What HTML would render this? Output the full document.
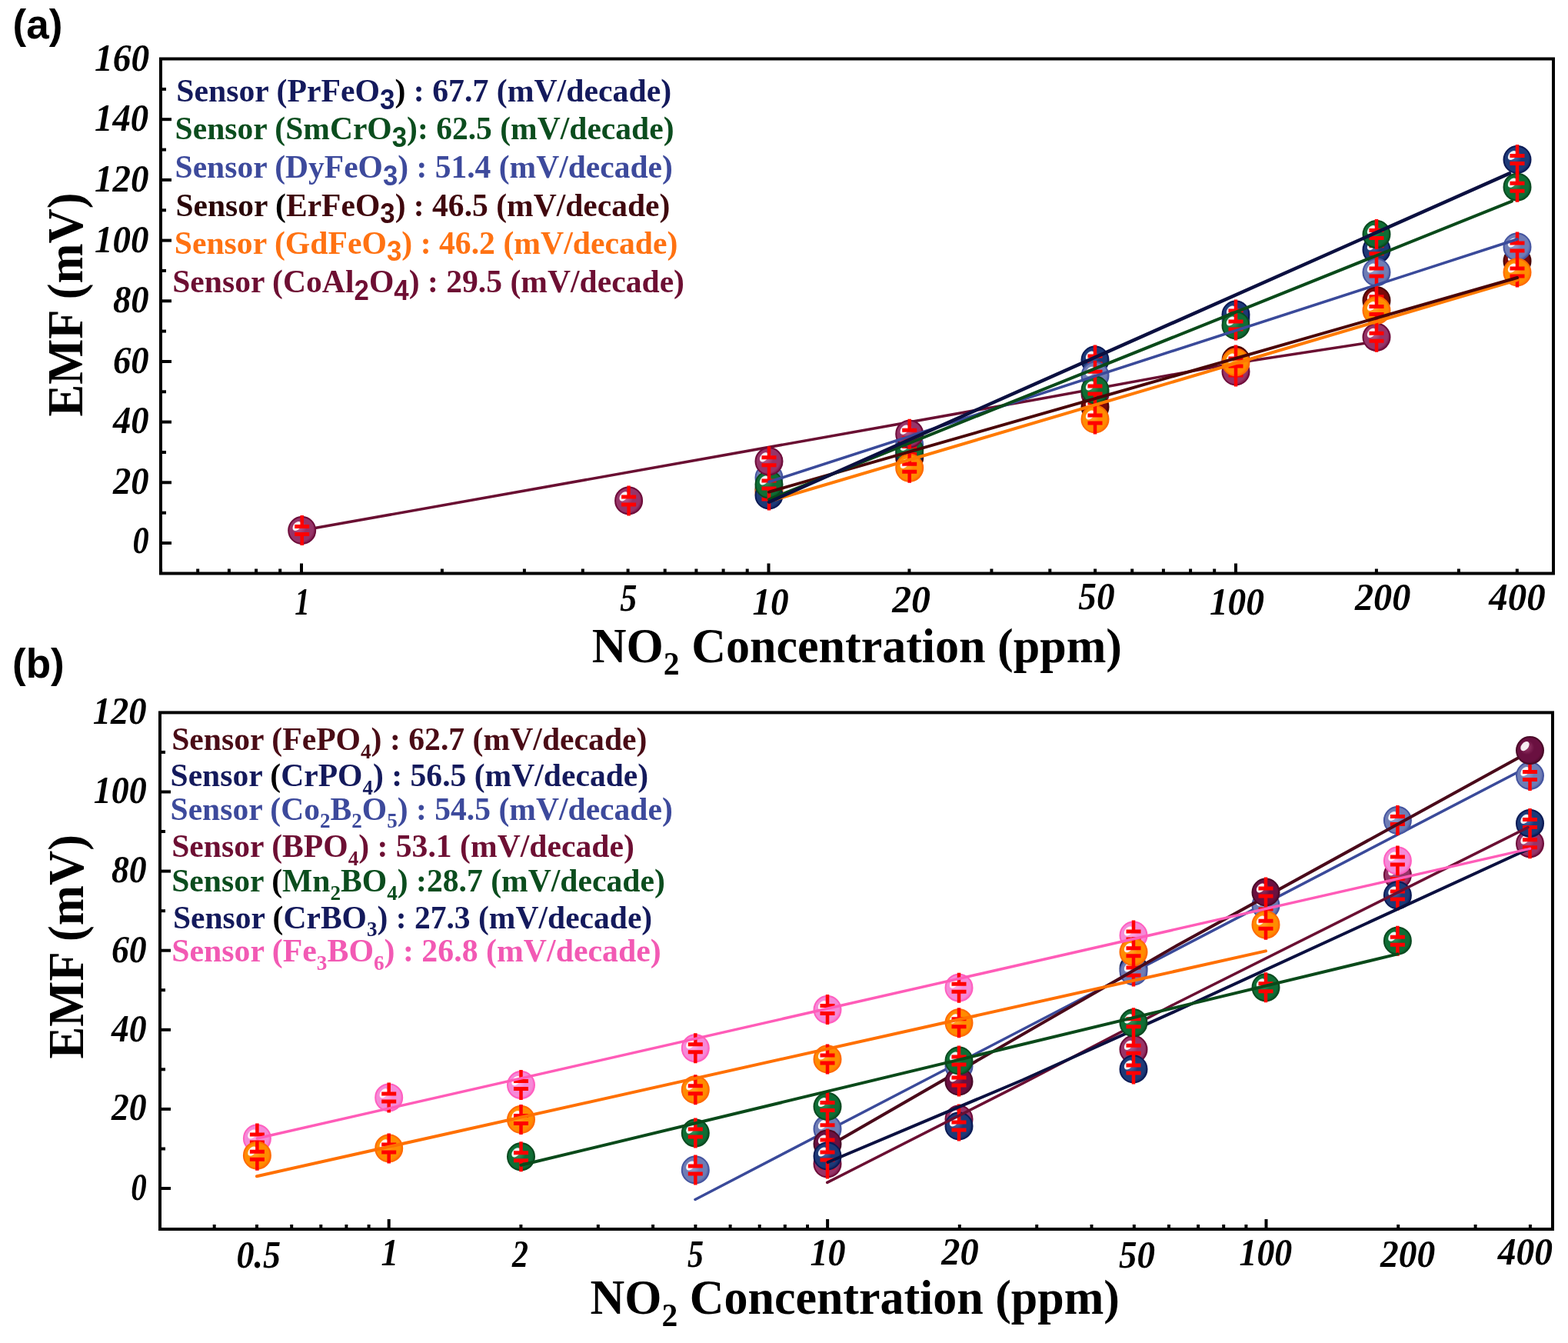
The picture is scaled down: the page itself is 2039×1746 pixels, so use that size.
<!DOCTYPE html><html><head><meta charset="utf-8"><style>html,body{margin:0;padding:0;background:#fff;}svg{display:block;}</style></head><body><svg width="2039" height="1746" viewBox="0 0 2039 1746">
<defs><radialGradient id="g_navy" cx="0.45" cy="0.45" r="0.6" fx="0.35" fy="0.35"><stop offset="0" stop-color="#5a78b8"/><stop offset="0.45" stop-color="#1d3a78"/><stop offset="0.8" stop-color="#1d3a78"/><stop offset="1" stop-color="#0b1a55"/></radialGradient><radialGradient id="g_green" cx="0.45" cy="0.45" r="0.6" fx="0.35" fy="0.35"><stop offset="0" stop-color="#4aa070"/><stop offset="0.45" stop-color="#0f6e35"/><stop offset="0.8" stop-color="#0f6e35"/><stop offset="1" stop-color="#0a4a20"/></radialGradient><radialGradient id="g_blue" cx="0.45" cy="0.45" r="0.6" fx="0.35" fy="0.35"><stop offset="0" stop-color="#a8b4dc"/><stop offset="0.45" stop-color="#6f7db5"/><stop offset="0.8" stop-color="#6f7db5"/><stop offset="1" stop-color="#4555a0"/></radialGradient><radialGradient id="g_dred" cx="0.45" cy="0.45" r="0.6" fx="0.35" fy="0.35"><stop offset="0" stop-color="#b04040"/><stop offset="0.45" stop-color="#7a0a0a"/><stop offset="0.8" stop-color="#7a0a0a"/><stop offset="1" stop-color="#4a0505"/></radialGradient><radialGradient id="g_orange" cx="0.45" cy="0.45" r="0.6" fx="0.35" fy="0.35"><stop offset="0" stop-color="#ffb040"/><stop offset="0.45" stop-color="#ff8c00"/><stop offset="0.8" stop-color="#ff8c00"/><stop offset="1" stop-color="#ff6a00"/></radialGradient><radialGradient id="g_maroon" cx="0.45" cy="0.45" r="0.6" fx="0.35" fy="0.35"><stop offset="0" stop-color="#c070a0"/><stop offset="0.45" stop-color="#963468"/><stop offset="0.8" stop-color="#963468"/><stop offset="1" stop-color="#6e0c3a"/></radialGradient><radialGradient id="g_pink" cx="0.45" cy="0.45" r="0.6" fx="0.35" fy="0.35"><stop offset="0" stop-color="#ffc0ec"/><stop offset="0.45" stop-color="#f58ad8"/><stop offset="0.8" stop-color="#f58ad8"/><stop offset="1" stop-color="#ff5fc0"/></radialGradient><radialGradient id="g_plum" cx="0.45" cy="0.45" r="0.6" fx="0.35" fy="0.35"><stop offset="0" stop-color="#a04070"/><stop offset="0.45" stop-color="#6a1040"/><stop offset="0.8" stop-color="#6a1040"/><stop offset="1" stop-color="#4a0a28"/></radialGradient></defs>
<rect width="2039" height="1746" fill="#fff"/>
<text x="16.5" y="50" font-family="Liberation Sans, sans-serif" font-weight="bold" font-size="53">(a)</text>
<text x="16" y="881" font-family="Liberation Sans, sans-serif" font-weight="bold" font-size="53">(b)</text>
<rect x="209" y="76.5" width="1811" height="669.0" fill="none" stroke="#000" stroke-width="4"/><line x1="209" y1="706.0" x2="223" y2="706.0" stroke="#000" stroke-width="4"/><line x1="209" y1="627.3" x2="223" y2="627.3" stroke="#000" stroke-width="4"/><line x1="209" y1="548.6" x2="223" y2="548.6" stroke="#000" stroke-width="4"/><line x1="209" y1="470.0" x2="223" y2="470.0" stroke="#000" stroke-width="4"/><line x1="209" y1="391.3" x2="223" y2="391.3" stroke="#000" stroke-width="4"/><line x1="209" y1="312.6" x2="223" y2="312.6" stroke="#000" stroke-width="4"/><line x1="209" y1="233.9" x2="223" y2="233.9" stroke="#000" stroke-width="4"/><line x1="209" y1="155.2" x2="223" y2="155.2" stroke="#000" stroke-width="4"/><line x1="209" y1="666.7" x2="216" y2="666.7" stroke="#000" stroke-width="4"/><line x1="209" y1="588.0" x2="216" y2="588.0" stroke="#000" stroke-width="4"/><line x1="209" y1="509.3" x2="216" y2="509.3" stroke="#000" stroke-width="4"/><line x1="209" y1="430.6" x2="216" y2="430.6" stroke="#000" stroke-width="4"/><line x1="209" y1="351.9" x2="216" y2="351.9" stroke="#000" stroke-width="4"/><line x1="209" y1="273.3" x2="216" y2="273.3" stroke="#000" stroke-width="4"/><line x1="209" y1="194.6" x2="216" y2="194.6" stroke="#000" stroke-width="4"/><line x1="209" y1="115.9" x2="216" y2="115.9" stroke="#000" stroke-width="4"/><line x1="392.0" y1="745.5" x2="392.0" y2="732.5" stroke="#000" stroke-width="4"/><line x1="999.5" y1="745.5" x2="999.5" y2="732.5" stroke="#000" stroke-width="4"/><line x1="1607.0" y1="745.5" x2="1607.0" y2="732.5" stroke="#000" stroke-width="4"/><line x1="209.1" y1="745.5" x2="209.1" y2="739.5" stroke="#000" stroke-width="4"/><line x1="257.2" y1="745.5" x2="257.2" y2="739.5" stroke="#000" stroke-width="4"/><line x1="297.9" y1="745.5" x2="297.9" y2="739.5" stroke="#000" stroke-width="4"/><line x1="333.1" y1="745.5" x2="333.1" y2="739.5" stroke="#000" stroke-width="4"/><line x1="364.2" y1="745.5" x2="364.2" y2="739.5" stroke="#000" stroke-width="4"/><line x1="574.9" y1="745.5" x2="574.9" y2="739.5" stroke="#000" stroke-width="4"/><line x1="681.9" y1="745.5" x2="681.9" y2="739.5" stroke="#000" stroke-width="4"/><line x1="757.8" y1="745.5" x2="757.8" y2="739.5" stroke="#000" stroke-width="4"/><line x1="816.6" y1="745.5" x2="816.6" y2="739.5" stroke="#000" stroke-width="4"/><line x1="864.7" y1="745.5" x2="864.7" y2="739.5" stroke="#000" stroke-width="4"/><line x1="905.4" y1="745.5" x2="905.4" y2="739.5" stroke="#000" stroke-width="4"/><line x1="940.6" y1="745.5" x2="940.6" y2="739.5" stroke="#000" stroke-width="4"/><line x1="971.7" y1="745.5" x2="971.7" y2="739.5" stroke="#000" stroke-width="4"/><line x1="1182.4" y1="745.5" x2="1182.4" y2="739.5" stroke="#000" stroke-width="4"/><line x1="1289.4" y1="745.5" x2="1289.4" y2="739.5" stroke="#000" stroke-width="4"/><line x1="1365.3" y1="745.5" x2="1365.3" y2="739.5" stroke="#000" stroke-width="4"/><line x1="1424.1" y1="745.5" x2="1424.1" y2="739.5" stroke="#000" stroke-width="4"/><line x1="1472.2" y1="745.5" x2="1472.2" y2="739.5" stroke="#000" stroke-width="4"/><line x1="1512.9" y1="745.5" x2="1512.9" y2="739.5" stroke="#000" stroke-width="4"/><line x1="1548.1" y1="745.5" x2="1548.1" y2="739.5" stroke="#000" stroke-width="4"/><line x1="1579.2" y1="745.5" x2="1579.2" y2="739.5" stroke="#000" stroke-width="4"/><line x1="1789.9" y1="745.5" x2="1789.9" y2="739.5" stroke="#000" stroke-width="4"/><line x1="1896.9" y1="745.5" x2="1896.9" y2="739.5" stroke="#000" stroke-width="4"/><line x1="1972.8" y1="745.5" x2="1972.8" y2="739.5" stroke="#000" stroke-width="4"/>
<rect x="208" y="926.4" width="1811" height="671.6" fill="none" stroke="#000" stroke-width="4"/><line x1="208" y1="1545.0" x2="222" y2="1545.0" stroke="#000" stroke-width="4"/><line x1="208" y1="1441.9" x2="222" y2="1441.9" stroke="#000" stroke-width="4"/><line x1="208" y1="1338.8" x2="222" y2="1338.8" stroke="#000" stroke-width="4"/><line x1="208" y1="1235.7" x2="222" y2="1235.7" stroke="#000" stroke-width="4"/><line x1="208" y1="1132.6" x2="222" y2="1132.6" stroke="#000" stroke-width="4"/><line x1="208" y1="1029.5" x2="222" y2="1029.5" stroke="#000" stroke-width="4"/><line x1="208" y1="1493.5" x2="215" y2="1493.5" stroke="#000" stroke-width="4"/><line x1="208" y1="1390.3" x2="215" y2="1390.3" stroke="#000" stroke-width="4"/><line x1="208" y1="1287.2" x2="215" y2="1287.2" stroke="#000" stroke-width="4"/><line x1="208" y1="1184.2" x2="215" y2="1184.2" stroke="#000" stroke-width="4"/><line x1="208" y1="1081.0" x2="215" y2="1081.0" stroke="#000" stroke-width="4"/><line x1="208" y1="977.9" x2="215" y2="977.9" stroke="#000" stroke-width="4"/><line x1="505.7" y1="1598" x2="505.7" y2="1585" stroke="#000" stroke-width="4"/><line x1="1076.1" y1="1598" x2="1076.1" y2="1585" stroke="#000" stroke-width="4"/><line x1="1646.5" y1="1598" x2="1646.5" y2="1585" stroke="#000" stroke-width="4"/><line x1="278.7" y1="1598" x2="278.7" y2="1592" stroke="#000" stroke-width="4"/><line x1="334.0" y1="1598" x2="334.0" y2="1592" stroke="#000" stroke-width="4"/><line x1="379.2" y1="1598" x2="379.2" y2="1592" stroke="#000" stroke-width="4"/><line x1="417.3" y1="1598" x2="417.3" y2="1592" stroke="#000" stroke-width="4"/><line x1="450.4" y1="1598" x2="450.4" y2="1592" stroke="#000" stroke-width="4"/><line x1="479.6" y1="1598" x2="479.6" y2="1592" stroke="#000" stroke-width="4"/><line x1="677.4" y1="1598" x2="677.4" y2="1592" stroke="#000" stroke-width="4"/><line x1="777.8" y1="1598" x2="777.8" y2="1592" stroke="#000" stroke-width="4"/><line x1="849.1" y1="1598" x2="849.1" y2="1592" stroke="#000" stroke-width="4"/><line x1="904.4" y1="1598" x2="904.4" y2="1592" stroke="#000" stroke-width="4"/><line x1="949.6" y1="1598" x2="949.6" y2="1592" stroke="#000" stroke-width="4"/><line x1="987.7" y1="1598" x2="987.7" y2="1592" stroke="#000" stroke-width="4"/><line x1="1020.8" y1="1598" x2="1020.8" y2="1592" stroke="#000" stroke-width="4"/><line x1="1050.0" y1="1598" x2="1050.0" y2="1592" stroke="#000" stroke-width="4"/><line x1="1247.8" y1="1598" x2="1247.8" y2="1592" stroke="#000" stroke-width="4"/><line x1="1348.2" y1="1598" x2="1348.2" y2="1592" stroke="#000" stroke-width="4"/><line x1="1419.5" y1="1598" x2="1419.5" y2="1592" stroke="#000" stroke-width="4"/><line x1="1474.8" y1="1598" x2="1474.8" y2="1592" stroke="#000" stroke-width="4"/><line x1="1520.0" y1="1598" x2="1520.0" y2="1592" stroke="#000" stroke-width="4"/><line x1="1558.1" y1="1598" x2="1558.1" y2="1592" stroke="#000" stroke-width="4"/><line x1="1591.2" y1="1598" x2="1591.2" y2="1592" stroke="#000" stroke-width="4"/><line x1="1620.4" y1="1598" x2="1620.4" y2="1592" stroke="#000" stroke-width="4"/><line x1="1818.2" y1="1598" x2="1818.2" y2="1592" stroke="#000" stroke-width="4"/><line x1="1918.6" y1="1598" x2="1918.6" y2="1592" stroke="#000" stroke-width="4"/><line x1="1989.9" y1="1598" x2="1989.9" y2="1592" stroke="#000" stroke-width="4"/>
<text x="123.0" y="92.1" font-size="51" font-family="Liberation Serif, serif" font-weight="bold" font-style="italic" fill="#000" textLength="71.2" lengthAdjust="spacingAndGlyphs" >160</text>
<text x="123.0" y="170.2" font-size="51" font-family="Liberation Serif, serif" font-weight="bold" font-style="italic" fill="#000" textLength="70.2" lengthAdjust="spacingAndGlyphs" >140</text>
<text x="123.0" y="249.4" font-size="51" font-family="Liberation Serif, serif" font-weight="bold" font-style="italic" fill="#000" textLength="70.5" lengthAdjust="spacingAndGlyphs" >120</text>
<text x="123.0" y="327.6" font-size="51" font-family="Liberation Serif, serif" font-weight="bold" font-style="italic" fill="#000" textLength="70.5" lengthAdjust="spacingAndGlyphs" >100</text>
<text x="147.0" y="405.6" font-size="51" font-family="Liberation Serif, serif" font-weight="bold" font-style="italic" fill="#000" textLength="46.7" lengthAdjust="spacingAndGlyphs" >80</text>
<text x="147.0" y="485.0" font-size="51" font-family="Liberation Serif, serif" font-weight="bold" font-style="italic" fill="#000" textLength="46.7" lengthAdjust="spacingAndGlyphs" >60</text>
<text x="147.0" y="563.4" font-size="51" font-family="Liberation Serif, serif" font-weight="bold" font-style="italic" fill="#000" textLength="46.7" lengthAdjust="spacingAndGlyphs" >40</text>
<text x="147.0" y="641.8" font-size="51" font-family="Liberation Serif, serif" font-weight="bold" font-style="italic" fill="#000" textLength="46.7" lengthAdjust="spacingAndGlyphs" >20</text>
<text x="172.5" y="719.2" font-size="51" font-family="Liberation Serif, serif" font-weight="bold" font-style="italic" fill="#000" textLength="21.2" lengthAdjust="spacingAndGlyphs" >0</text>
<text x="383.3" y="799.3" font-size="51" font-family="Liberation Serif, serif" font-weight="bold" font-style="italic" fill="#000" textLength="19.6" lengthAdjust="spacingAndGlyphs" >1</text>
<text x="806.3" y="794.4" font-size="51" font-family="Liberation Serif, serif" font-weight="bold" font-style="italic" fill="#000" textLength="22.1" lengthAdjust="spacingAndGlyphs" >5</text>
<text x="978.5" y="799.4" font-size="51" font-family="Liberation Serif, serif" font-weight="bold" font-style="italic" fill="#000" textLength="47.2" lengthAdjust="spacingAndGlyphs" >10</text>
<text x="1160.2" y="795.5" font-size="51" font-family="Liberation Serif, serif" font-weight="bold" font-style="italic" fill="#000" textLength="49.8" lengthAdjust="spacingAndGlyphs" >20</text>
<text x="1402.3" y="792.0" font-size="51" font-family="Liberation Serif, serif" font-weight="bold" font-style="italic" fill="#000" textLength="47.2" lengthAdjust="spacingAndGlyphs" >50</text>
<text x="1572.9" y="799.4" font-size="51" font-family="Liberation Serif, serif" font-weight="bold" font-style="italic" fill="#000" textLength="71.1" lengthAdjust="spacingAndGlyphs" >100</text>
<text x="1761.9" y="793.0" font-size="51" font-family="Liberation Serif, serif" font-weight="bold" font-style="italic" fill="#000" textLength="72.4" lengthAdjust="spacingAndGlyphs" >200</text>
<text x="1936.3" y="793.0" font-size="51" font-family="Liberation Serif, serif" font-weight="bold" font-style="italic" fill="#000" textLength="73.3" lengthAdjust="spacingAndGlyphs" >400</text>
<text x="120.7" y="940.8" font-size="51" font-family="Liberation Serif, serif" font-weight="bold" font-style="italic" fill="#000" textLength="70.0" lengthAdjust="spacingAndGlyphs" >120</text>
<text x="121.7" y="1044.0" font-size="51" font-family="Liberation Serif, serif" font-weight="bold" font-style="italic" fill="#000" textLength="69.0" lengthAdjust="spacingAndGlyphs" >100</text>
<text x="145.0" y="1147.0" font-size="51" font-family="Liberation Serif, serif" font-weight="bold" font-style="italic" fill="#000" textLength="45.7" lengthAdjust="spacingAndGlyphs" >80</text>
<text x="145.0" y="1250.7" font-size="51" font-family="Liberation Serif, serif" font-weight="bold" font-style="italic" fill="#000" textLength="45.7" lengthAdjust="spacingAndGlyphs" >60</text>
<text x="145.0" y="1354.3" font-size="51" font-family="Liberation Serif, serif" font-weight="bold" font-style="italic" fill="#000" textLength="45.7" lengthAdjust="spacingAndGlyphs" >40</text>
<text x="145.0" y="1456.0" font-size="51" font-family="Liberation Serif, serif" font-weight="bold" font-style="italic" fill="#000" textLength="45.7" lengthAdjust="spacingAndGlyphs" >20</text>
<text x="170.2" y="1559.6" font-size="51" font-family="Liberation Serif, serif" font-weight="bold" font-style="italic" fill="#000" textLength="20.5" lengthAdjust="spacingAndGlyphs" >0</text>
<text x="307.4" y="1648.2" font-size="51" font-family="Liberation Serif, serif" font-weight="bold" font-style="italic" fill="#000" textLength="57.5" lengthAdjust="spacingAndGlyphs" >0.5</text>
<text x="495.4" y="1644.7" font-size="51" font-family="Liberation Serif, serif" font-weight="bold" font-style="italic" fill="#000" textLength="22.6" lengthAdjust="spacingAndGlyphs" >1</text>
<text x="666.0" y="1646.5" font-size="51" font-family="Liberation Serif, serif" font-weight="bold" font-style="italic" fill="#000" textLength="21.0" lengthAdjust="spacingAndGlyphs" >2</text>
<text x="894.0" y="1646.5" font-size="51" font-family="Liberation Serif, serif" font-weight="bold" font-style="italic" fill="#000" textLength="21.0" lengthAdjust="spacingAndGlyphs" >5</text>
<text x="1053.5" y="1645.0" font-size="51" font-family="Liberation Serif, serif" font-weight="bold" font-style="italic" fill="#000" textLength="45.9" lengthAdjust="spacingAndGlyphs" >10</text>
<text x="1224.2" y="1644.0" font-size="51" font-family="Liberation Serif, serif" font-weight="bold" font-style="italic" fill="#000" textLength="48.4" lengthAdjust="spacingAndGlyphs" >20</text>
<text x="1455.0" y="1647.5" font-size="51" font-family="Liberation Serif, serif" font-weight="bold" font-style="italic" fill="#000" textLength="46.9" lengthAdjust="spacingAndGlyphs" >50</text>
<text x="1611.5" y="1645.0" font-size="51" font-family="Liberation Serif, serif" font-weight="bold" font-style="italic" fill="#000" textLength="68.8" lengthAdjust="spacingAndGlyphs" >100</text>
<text x="1794.9" y="1646.5" font-size="51" font-family="Liberation Serif, serif" font-weight="bold" font-style="italic" fill="#000" textLength="71.3" lengthAdjust="spacingAndGlyphs" >200</text>
<text x="1947.8" y="1644.0" font-size="51" font-family="Liberation Serif, serif" font-weight="bold" font-style="italic" fill="#000" textLength="71.3" lengthAdjust="spacingAndGlyphs" >400</text>
<text x="769.8" y="860.8" font-family="Liberation Serif, serif" font-weight="bold" font-size="64" textLength="689.2" lengthAdjust="spacingAndGlyphs">NO<tspan font-size="43" y="876.8">2</tspan><tspan y="860.8"> Concentration (ppm)</tspan></text>
<text x="767.5" y="1708" font-family="Liberation Serif, serif" font-weight="bold" font-size="64" textLength="688.5" lengthAdjust="spacingAndGlyphs">NO<tspan font-size="43" y="1724">2</tspan><tspan y="1708"> Concentration (ppm)</tspan></text>
<text transform="translate(107.4,541.4) rotate(-90)" x="0" y="0" font-family="Liberation Serif, serif" font-weight="bold" font-size="65" textLength="290.9" lengthAdjust="spacingAndGlyphs">EMF (mV)</text>
<text transform="translate(108.4,1376.4) rotate(-90)" x="0" y="0" font-family="Liberation Serif, serif" font-weight="bold" font-size="65" textLength="291.4000000000001" lengthAdjust="spacingAndGlyphs">EMF (mV)</text>
<text x="229.2" y="132.3" font-family="Liberation Serif, serif" font-weight="bold" font-size="43" textLength="643.9000000000001" lengthAdjust="spacingAndGlyphs"><tspan y="132.3" fill="#141a5c">Sensor (PrFeO</tspan><tspan y="141.8" fill="#141a5c" font-family="Liberation Sans, sans-serif" font-weight="bold" font-size="36">3</tspan><tspan y="132.3" fill="#000">)</tspan><tspan y="132.3" fill="#141a5c"> : 67.7 (mV/decade)</tspan></text>
<text x="227.6" y="181.4" font-family="Liberation Serif, serif" font-weight="bold" font-size="43" textLength="648.9" lengthAdjust="spacingAndGlyphs"><tspan y="181.4" fill="#0b4d1e">Sensor (SmCrO</tspan><tspan y="190.9" fill="#0b4d1e" font-family="Liberation Sans, sans-serif" font-weight="bold" font-size="36">3</tspan><tspan y="181.4" fill="#0b4d1e">): 62.5 (mV/decade)</tspan></text>
<text x="227.6" y="231.3" font-family="Liberation Serif, serif" font-weight="bold" font-size="43" textLength="647.1999999999999" lengthAdjust="spacingAndGlyphs"><tspan y="231.3" fill="#3d4a9c">Sensor (DyFeO</tspan><tspan y="240.8" fill="#3d4a9c" font-family="Liberation Sans, sans-serif" font-weight="bold" font-size="36">3</tspan><tspan y="231.3" fill="#3d4a9c">) : 51.4 (mV/decade)</tspan></text>
<text x="228.4" y="280.6" font-family="Liberation Serif, serif" font-weight="bold" font-size="43" textLength="643.0" lengthAdjust="spacingAndGlyphs"><tspan y="280.6" fill="#2a0608">Sensor </tspan><tspan y="280.6" fill="#000">(</tspan><tspan y="280.6" fill="#40080e">ErFeO</tspan><tspan y="290.1" fill="#40080e" font-family="Liberation Sans, sans-serif" font-weight="bold" font-size="36">3</tspan><tspan y="280.6" fill="#40080e">) : 46.5 (mV/decade)</tspan></text>
<text x="226.7" y="329.7" font-family="Liberation Serif, serif" font-weight="bold" font-size="43" textLength="654.8" lengthAdjust="spacingAndGlyphs"><tspan y="329.7" fill="#ff7212">Sensor (GdFeO</tspan><tspan y="339.2" fill="#ff7212" font-family="Liberation Sans, sans-serif" font-weight="bold" font-size="36">3</tspan><tspan y="329.7" fill="#ff7212">) : 46.2 (mV/decade)</tspan></text>
<text x="224.2" y="380.4" font-family="Liberation Serif, serif" font-weight="bold" font-size="43" textLength="665.8" lengthAdjust="spacingAndGlyphs"><tspan y="380.4" fill="#6d0f33">Sensor (CoAl</tspan><tspan y="389.9" fill="#6d0f33" font-family="Liberation Sans, sans-serif" font-weight="bold" font-size="36">2</tspan><tspan y="380.4" fill="#6d0f33">O</tspan><tspan y="389.9" fill="#6d0f33" font-family="Liberation Sans, sans-serif" font-weight="bold" font-size="36">4</tspan><tspan y="380.4" fill="#6d0f33">) : 29.5 (mV/decade)</tspan></text>
<text x="223.2" y="975" font-family="Liberation Serif, serif" font-weight="bold" font-size="43" textLength="618.3" lengthAdjust="spacingAndGlyphs"><tspan y="975" fill="#4a0c16">Sensor (FePO</tspan><tspan y="985.5" fill="#4a0c16" font-size="28">4</tspan><tspan y="975" fill="#4a0c16">) : 62.7 (mV/decade)</tspan></text>
<text x="221.5" y="1022.3" font-family="Liberation Serif, serif" font-weight="bold" font-size="43" textLength="621.7" lengthAdjust="spacingAndGlyphs"><tspan y="1022.3" fill="#141a5c">Sensor </tspan><tspan y="1022.3" fill="#000">(</tspan><tspan y="1022.3" fill="#141a5c">CrPO</tspan><tspan y="1032.8" fill="#141a5c" font-size="28">4</tspan><tspan y="1022.3" fill="#141a5c">) : 56.5 (mV/decade)</tspan></text>
<text x="221.5" y="1065.7" font-family="Liberation Serif, serif" font-weight="bold" font-size="43" textLength="653.3" lengthAdjust="spacingAndGlyphs"><tspan y="1065.7" fill="#3d4a9c">Sensor (Co</tspan><tspan y="1076.2" fill="#3d4a9c" font-size="28">2</tspan><tspan y="1065.7" fill="#3d4a9c">B</tspan><tspan y="1076.2" fill="#3d4a9c" font-size="28">2</tspan><tspan y="1065.7" fill="#3d4a9c">O</tspan><tspan y="1076.2" fill="#3d4a9c" font-size="28">5</tspan><tspan y="1065.7" fill="#3d4a9c">) : 54.5 (mV/decade)</tspan></text>
<text x="223.2" y="1114.3" font-family="Liberation Serif, serif" font-weight="bold" font-size="43" textLength="601.5999999999999" lengthAdjust="spacingAndGlyphs"><tspan y="1114.3" fill="#6d0f33">Sensor (BPO</tspan><tspan y="1124.8" fill="#6d0f33" font-size="28">4</tspan><tspan y="1114.3" fill="#6d0f33">) : 53.1 (mV/decade)</tspan></text>
<text x="223.2" y="1159" font-family="Liberation Serif, serif" font-weight="bold" font-size="43" textLength="641.5999999999999" lengthAdjust="spacingAndGlyphs"><tspan y="1159" fill="#0b4d1e">Sensor </tspan><tspan y="1159" fill="#000">(</tspan><tspan y="1159" fill="#0b4d1e">Mn</tspan><tspan y="1169.5" fill="#0b4d1e" font-size="28">2</tspan><tspan y="1159" fill="#0b4d1e">BO</tspan><tspan y="1169.5" fill="#0b4d1e" font-size="28">4</tspan><tspan y="1159" fill="#0b4d1e">) :28.7 (mV/decade)</tspan></text>
<text x="224.9" y="1206.7" font-family="Liberation Serif, serif" font-weight="bold" font-size="43" textLength="623.3000000000001" lengthAdjust="spacingAndGlyphs"><tspan y="1206.7" fill="#141a5c">Sensor </tspan><tspan y="1206.7" fill="#000">(</tspan><tspan y="1206.7" fill="#141a5c">CrBO</tspan><tspan y="1217.2" fill="#141a5c" font-size="28">3</tspan><tspan y="1206.7" fill="#141a5c">) : 27.3 (mV/decade)</tspan></text>
<text x="223.2" y="1250" font-family="Liberation Serif, serif" font-weight="bold" font-size="43" textLength="636.5999999999999" lengthAdjust="spacingAndGlyphs"><tspan y="1250" fill="#f25ab4">Sensor (Fe</tspan><tspan y="1260.5" fill="#f25ab4" font-size="28">3</tspan><tspan y="1250" fill="#f25ab4">BO</tspan><tspan y="1260.5" fill="#f25ab4" font-size="28">6</tspan><tspan y="1250" fill="#f25ab4">) : 26.8 (mV/decade)</tspan></text>
<polyline points="392.7,689.5 1350.0,519.0 1607.0,472.0 1790.0,444.0" fill="none" stroke="#6a0f32" stroke-width="3.5" stroke-linejoin="round" stroke-linecap="round"/>
<circle cx="1000.0" cy="636.0" r="17.5" fill="url(#g_dred)" stroke="#4a0505" stroke-width="2"/><ellipse cx="993.5" cy="630.5" rx="4.5" ry="7" transform="rotate(40 993.5 630.5)" fill="#fff" opacity="0.92"/><path d="M1000.0,616.5V631.0M1000.0,641.0V655.5" stroke="#f00" stroke-width="4.5" fill="none"/><path d="M990.5,631.0H1009.5M990.5,641.0H1009.5" stroke="#f00" stroke-width="5" fill="none"/>
<circle cx="1607.0" cy="415.0" r="17.5" fill="url(#g_blue)" stroke="#4555a0" stroke-width="2"/><ellipse cx="1600.5" cy="409.5" rx="4.5" ry="7" transform="rotate(40 1600.5 409.5)" fill="#fff" opacity="0.92"/><path d="M1607.0,395.5V410.0M1607.0,420.0V434.5" stroke="#f00" stroke-width="4.5" fill="none"/><path d="M1597.5,410.0H1616.5M1597.5,420.0H1616.5" stroke="#f00" stroke-width="5" fill="none"/>
<circle cx="1000.0" cy="640.0" r="17.5" fill="url(#g_orange)" stroke="#ff6a00" stroke-width="2"/><ellipse cx="993.5" cy="634.5" rx="4.5" ry="7" transform="rotate(40 993.5 634.5)" fill="#fff" opacity="0.92"/><path d="M1000.0,620.5V635.0M1000.0,645.0V659.5" stroke="#f00" stroke-width="4.5" fill="none"/><path d="M990.5,635.0H1009.5M990.5,645.0H1009.5" stroke="#f00" stroke-width="5" fill="none"/>
<circle cx="392.7" cy="689.5" r="17.5" fill="url(#g_maroon)" stroke="#6e0c3a" stroke-width="2"/><ellipse cx="386.2" cy="684.0" rx="4.5" ry="7" transform="rotate(40 386.2 684.0)" fill="#fff" opacity="0.92"/><path d="M392.7,670.0V684.5M392.7,694.5V709.0" stroke="#f00" stroke-width="4.5" fill="none"/><path d="M383.2,684.5H402.2M383.2,694.5H402.2" stroke="#f00" stroke-width="5" fill="none"/>
<circle cx="817.6" cy="650.9" r="17.5" fill="url(#g_maroon)" stroke="#6e0c3a" stroke-width="2"/><ellipse cx="811.1" cy="645.4" rx="4.5" ry="7" transform="rotate(40 811.1 645.4)" fill="#fff" opacity="0.92"/><path d="M817.6,631.4V645.9M817.6,655.9V670.4" stroke="#f00" stroke-width="4.5" fill="none"/><path d="M808.1,645.9H827.1M808.1,655.9H827.1" stroke="#f00" stroke-width="5" fill="none"/>
<circle cx="1424.0" cy="512.0" r="17.5" fill="url(#g_maroon)" stroke="#6e0c3a" stroke-width="2"/><ellipse cx="1417.5" cy="506.5" rx="4.5" ry="7" transform="rotate(40 1417.5 506.5)" fill="#fff" opacity="0.92"/><path d="M1424.0,492.5V507.0M1424.0,517.0V531.5" stroke="#f00" stroke-width="4.5" fill="none"/><path d="M1414.5,507.0H1433.5M1414.5,517.0H1433.5" stroke="#f00" stroke-width="5" fill="none"/>
<circle cx="1607.0" cy="483.0" r="17.5" fill="url(#g_maroon)" stroke="#6e0c3a" stroke-width="2"/><ellipse cx="1600.5" cy="477.5" rx="4.5" ry="7" transform="rotate(40 1600.5 477.5)" fill="#fff" opacity="0.92"/><path d="M1607.0,463.5V478.0M1607.0,488.0V502.5" stroke="#f00" stroke-width="4.5" fill="none"/><path d="M1597.5,478.0H1616.5M1597.5,488.0H1616.5" stroke="#f00" stroke-width="5" fill="none"/>
<circle cx="1790.0" cy="438.3" r="17.5" fill="url(#g_maroon)" stroke="#6e0c3a" stroke-width="2"/><ellipse cx="1783.5" cy="432.8" rx="4.5" ry="7" transform="rotate(40 1783.5 432.8)" fill="#fff" opacity="0.92"/><path d="M1790.0,418.8V433.3M1790.0,443.3V457.8" stroke="#f00" stroke-width="4.5" fill="none"/><path d="M1780.5,433.3H1799.5M1780.5,443.3H1799.5" stroke="#f00" stroke-width="5" fill="none"/>
<circle cx="1182.7" cy="595.0" r="17.5" fill="url(#g_dred)" stroke="#4a0505" stroke-width="2"/><ellipse cx="1176.2" cy="589.5" rx="4.5" ry="7" transform="rotate(40 1176.2 589.5)" fill="#fff" opacity="0.92"/><path d="M1182.7,575.5V590.0M1182.7,600.0V614.5" stroke="#f00" stroke-width="4.5" fill="none"/><path d="M1173.2,590.0H1192.2M1173.2,600.0H1192.2" stroke="#f00" stroke-width="5" fill="none"/>
<circle cx="1424.0" cy="528.9" r="17.5" fill="url(#g_dred)" stroke="#4a0505" stroke-width="2"/><ellipse cx="1417.5" cy="523.4" rx="4.5" ry="7" transform="rotate(40 1417.5 523.4)" fill="#fff" opacity="0.92"/><path d="M1424.0,509.4V523.9M1424.0,533.9V548.4" stroke="#f00" stroke-width="4.5" fill="none"/><path d="M1414.5,523.9H1433.5M1414.5,533.9H1433.5" stroke="#f00" stroke-width="5" fill="none"/>
<circle cx="1607.0" cy="468.0" r="17.5" fill="url(#g_dred)" stroke="#4a0505" stroke-width="2"/><ellipse cx="1600.5" cy="462.5" rx="4.5" ry="7" transform="rotate(40 1600.5 462.5)" fill="#fff" opacity="0.92"/><path d="M1607.0,448.5V463.0M1607.0,473.0V487.5" stroke="#f00" stroke-width="4.5" fill="none"/><path d="M1597.5,463.0H1616.5M1597.5,473.0H1616.5" stroke="#f00" stroke-width="5" fill="none"/>
<circle cx="1790.0" cy="390.7" r="17.5" fill="url(#g_dred)" stroke="#4a0505" stroke-width="2"/><ellipse cx="1783.5" cy="385.2" rx="4.5" ry="7" transform="rotate(40 1783.5 385.2)" fill="#fff" opacity="0.92"/><path d="M1790.0,371.2V385.7M1790.0,395.7V410.2" stroke="#f00" stroke-width="4.5" fill="none"/><path d="M1780.5,385.7H1799.5M1780.5,395.7H1799.5" stroke="#f00" stroke-width="5" fill="none"/>
<circle cx="1973.0" cy="339.4" r="17.5" fill="url(#g_dred)" stroke="#4a0505" stroke-width="2"/><ellipse cx="1966.5" cy="333.9" rx="4.5" ry="7" transform="rotate(40 1966.5 333.9)" fill="#fff" opacity="0.92"/><path d="M1973.0,319.9V334.4M1973.0,344.4V358.9" stroke="#f00" stroke-width="4.5" fill="none"/><path d="M1963.5,334.4H1982.5M1963.5,344.4H1982.5" stroke="#f00" stroke-width="5" fill="none"/>
<circle cx="1000.0" cy="644.0" r="17.5" fill="url(#g_navy)" stroke="#0b1a55" stroke-width="2"/><ellipse cx="993.5" cy="638.5" rx="4.5" ry="7" transform="rotate(40 993.5 638.5)" fill="#fff" opacity="0.92"/><path d="M1000.0,624.5V639.0M1000.0,649.0V663.5" stroke="#f00" stroke-width="4.5" fill="none"/><path d="M990.5,639.0H1009.5M990.5,649.0H1009.5" stroke="#f00" stroke-width="5" fill="none"/>
<circle cx="1182.7" cy="590.0" r="17.5" fill="url(#g_navy)" stroke="#0b1a55" stroke-width="2"/><ellipse cx="1176.2" cy="584.5" rx="4.5" ry="7" transform="rotate(40 1176.2 584.5)" fill="#fff" opacity="0.92"/><path d="M1182.7,570.5V585.0M1182.7,595.0V609.5" stroke="#f00" stroke-width="4.5" fill="none"/><path d="M1173.2,585.0H1192.2M1173.2,595.0H1192.2" stroke="#f00" stroke-width="5" fill="none"/>
<circle cx="1424.0" cy="468.0" r="17.5" fill="url(#g_navy)" stroke="#0b1a55" stroke-width="2"/><ellipse cx="1417.5" cy="462.5" rx="4.5" ry="7" transform="rotate(40 1417.5 462.5)" fill="#fff" opacity="0.92"/><path d="M1424.0,448.5V463.0M1424.0,473.0V487.5" stroke="#f00" stroke-width="4.5" fill="none"/><path d="M1414.5,463.0H1433.5M1414.5,473.0H1433.5" stroke="#f00" stroke-width="5" fill="none"/>
<circle cx="1607.0" cy="409.0" r="17.5" fill="url(#g_navy)" stroke="#0b1a55" stroke-width="2"/><ellipse cx="1600.5" cy="403.5" rx="4.5" ry="7" transform="rotate(40 1600.5 403.5)" fill="#fff" opacity="0.92"/><path d="M1607.0,389.5V404.0M1607.0,414.0V428.5" stroke="#f00" stroke-width="4.5" fill="none"/><path d="M1597.5,404.0H1616.5M1597.5,414.0H1616.5" stroke="#f00" stroke-width="5" fill="none"/>
<circle cx="1790.0" cy="324.7" r="17.5" fill="url(#g_navy)" stroke="#0b1a55" stroke-width="2"/><ellipse cx="1783.5" cy="319.2" rx="4.5" ry="7" transform="rotate(40 1783.5 319.2)" fill="#fff" opacity="0.92"/><path d="M1790.0,305.2V319.7M1790.0,329.7V344.2" stroke="#f00" stroke-width="4.5" fill="none"/><path d="M1780.5,319.7H1799.5M1780.5,329.7H1799.5" stroke="#f00" stroke-width="5" fill="none"/>
<circle cx="1973.0" cy="207.5" r="17.5" fill="url(#g_navy)" stroke="#0b1a55" stroke-width="2"/><ellipse cx="1966.5" cy="202.0" rx="4.5" ry="7" transform="rotate(40 1966.5 202.0)" fill="#fff" opacity="0.92"/><path d="M1973.0,188.0V202.5M1973.0,212.5V227.0" stroke="#f00" stroke-width="4.5" fill="none"/><path d="M1963.5,202.5H1982.5M1963.5,212.5H1982.5" stroke="#f00" stroke-width="5" fill="none"/>
<circle cx="1000.0" cy="621.0" r="17.5" fill="url(#g_blue)" stroke="#4555a0" stroke-width="2"/><ellipse cx="993.5" cy="615.5" rx="4.5" ry="7" transform="rotate(40 993.5 615.5)" fill="#fff" opacity="0.92"/><path d="M1000.0,601.5V616.0M1000.0,626.0V640.5" stroke="#f00" stroke-width="4.5" fill="none"/><path d="M990.5,616.0H1009.5M990.5,626.0H1009.5" stroke="#f00" stroke-width="5" fill="none"/>
<circle cx="1182.7" cy="578.0" r="17.5" fill="url(#g_blue)" stroke="#4555a0" stroke-width="2"/><ellipse cx="1176.2" cy="572.5" rx="4.5" ry="7" transform="rotate(40 1176.2 572.5)" fill="#fff" opacity="0.92"/><path d="M1182.7,558.5V573.0M1182.7,583.0V597.5" stroke="#f00" stroke-width="4.5" fill="none"/><path d="M1173.2,573.0H1192.2M1173.2,583.0H1192.2" stroke="#f00" stroke-width="5" fill="none"/>
<circle cx="1424.0" cy="488.3" r="17.5" fill="url(#g_blue)" stroke="#4555a0" stroke-width="2"/><ellipse cx="1417.5" cy="482.8" rx="4.5" ry="7" transform="rotate(40 1417.5 482.8)" fill="#fff" opacity="0.92"/><path d="M1424.0,468.8V483.3M1424.0,493.3V507.8" stroke="#f00" stroke-width="4.5" fill="none"/><path d="M1414.5,483.3H1433.5M1414.5,493.3H1433.5" stroke="#f00" stroke-width="5" fill="none"/>
<circle cx="1790.0" cy="354.0" r="17.5" fill="url(#g_blue)" stroke="#4555a0" stroke-width="2"/><ellipse cx="1783.5" cy="348.5" rx="4.5" ry="7" transform="rotate(40 1783.5 348.5)" fill="#fff" opacity="0.92"/><path d="M1790.0,334.5V349.0M1790.0,359.0V373.5" stroke="#f00" stroke-width="4.5" fill="none"/><path d="M1780.5,349.0H1799.5M1780.5,359.0H1799.5" stroke="#f00" stroke-width="5" fill="none"/>
<circle cx="1973.0" cy="321.0" r="17.5" fill="url(#g_blue)" stroke="#4555a0" stroke-width="2"/><ellipse cx="1966.5" cy="315.5" rx="4.5" ry="7" transform="rotate(40 1966.5 315.5)" fill="#fff" opacity="0.92"/><path d="M1973.0,301.5V316.0M1973.0,326.0V340.5" stroke="#f00" stroke-width="4.5" fill="none"/><path d="M1963.5,316.0H1982.5M1963.5,326.0H1982.5" stroke="#f00" stroke-width="5" fill="none"/>
<circle cx="1000.0" cy="630.0" r="17.5" fill="url(#g_green)" stroke="#0a4a20" stroke-width="2"/><ellipse cx="993.5" cy="624.5" rx="4.5" ry="7" transform="rotate(40 993.5 624.5)" fill="#fff" opacity="0.92"/><path d="M1000.0,610.5V625.0M1000.0,635.0V649.5" stroke="#f00" stroke-width="4.5" fill="none"/><path d="M990.5,625.0H1009.5M990.5,635.0H1009.5" stroke="#f00" stroke-width="5" fill="none"/>
<circle cx="1182.7" cy="585.4" r="17.5" fill="url(#g_green)" stroke="#0a4a20" stroke-width="2"/><ellipse cx="1176.2" cy="579.9" rx="4.5" ry="7" transform="rotate(40 1176.2 579.9)" fill="#fff" opacity="0.92"/><path d="M1182.7,565.9V580.4M1182.7,590.4V604.9" stroke="#f00" stroke-width="4.5" fill="none"/><path d="M1173.2,580.4H1192.2M1173.2,590.4H1192.2" stroke="#f00" stroke-width="5" fill="none"/>
<circle cx="1424.0" cy="507.0" r="17.5" fill="url(#g_green)" stroke="#0a4a20" stroke-width="2"/><ellipse cx="1417.5" cy="501.5" rx="4.5" ry="7" transform="rotate(40 1417.5 501.5)" fill="#fff" opacity="0.92"/><path d="M1424.0,487.5V502.0M1424.0,512.0V526.5" stroke="#f00" stroke-width="4.5" fill="none"/><path d="M1414.5,502.0H1433.5M1414.5,512.0H1433.5" stroke="#f00" stroke-width="5" fill="none"/>
<circle cx="1607.0" cy="423.0" r="17.5" fill="url(#g_green)" stroke="#0a4a20" stroke-width="2"/><ellipse cx="1600.5" cy="417.5" rx="4.5" ry="7" transform="rotate(40 1600.5 417.5)" fill="#fff" opacity="0.92"/><path d="M1607.0,403.5V418.0M1607.0,428.0V442.5" stroke="#f00" stroke-width="4.5" fill="none"/><path d="M1597.5,418.0H1616.5M1597.5,428.0H1616.5" stroke="#f00" stroke-width="5" fill="none"/>
<circle cx="1790.0" cy="304.6" r="17.5" fill="url(#g_green)" stroke="#0a4a20" stroke-width="2"/><ellipse cx="1783.5" cy="299.1" rx="4.5" ry="7" transform="rotate(40 1783.5 299.1)" fill="#fff" opacity="0.92"/><path d="M1790.0,285.1V299.6M1790.0,309.6V324.1" stroke="#f00" stroke-width="4.5" fill="none"/><path d="M1780.5,299.6H1799.5M1780.5,309.6H1799.5" stroke="#f00" stroke-width="5" fill="none"/>
<circle cx="1973.0" cy="243.2" r="17.5" fill="url(#g_green)" stroke="#0a4a20" stroke-width="2"/><ellipse cx="1966.5" cy="237.7" rx="4.5" ry="7" transform="rotate(40 1966.5 237.7)" fill="#fff" opacity="0.92"/><path d="M1973.0,223.7V238.2M1973.0,248.2V262.7" stroke="#f00" stroke-width="4.5" fill="none"/><path d="M1963.5,238.2H1982.5M1963.5,248.2H1982.5" stroke="#f00" stroke-width="5" fill="none"/>
<circle cx="1182.7" cy="608.3" r="17.5" fill="url(#g_orange)" stroke="#ff6a00" stroke-width="2"/><ellipse cx="1176.2" cy="602.8" rx="4.5" ry="7" transform="rotate(40 1176.2 602.8)" fill="#fff" opacity="0.92"/><path d="M1182.7,588.8V603.3M1182.7,613.3V627.8" stroke="#f00" stroke-width="4.5" fill="none"/><path d="M1173.2,603.3H1192.2M1173.2,613.3H1192.2" stroke="#f00" stroke-width="5" fill="none"/>
<circle cx="1424.0" cy="545.0" r="17.5" fill="url(#g_orange)" stroke="#ff6a00" stroke-width="2"/><ellipse cx="1417.5" cy="539.5" rx="4.5" ry="7" transform="rotate(40 1417.5 539.5)" fill="#fff" opacity="0.92"/><path d="M1424.0,525.5V540.0M1424.0,550.0V564.5" stroke="#f00" stroke-width="4.5" fill="none"/><path d="M1414.5,540.0H1433.5M1414.5,550.0H1433.5" stroke="#f00" stroke-width="5" fill="none"/>
<circle cx="1607.0" cy="471.0" r="17.5" fill="url(#g_orange)" stroke="#ff6a00" stroke-width="2"/><ellipse cx="1600.5" cy="465.5" rx="4.5" ry="7" transform="rotate(40 1600.5 465.5)" fill="#fff" opacity="0.92"/><path d="M1607.0,451.5V466.0M1607.0,476.0V490.5" stroke="#f00" stroke-width="4.5" fill="none"/><path d="M1597.5,466.0H1616.5M1597.5,476.0H1616.5" stroke="#f00" stroke-width="5" fill="none"/>
<circle cx="1790.0" cy="403.5" r="17.5" fill="url(#g_orange)" stroke="#ff6a00" stroke-width="2"/><ellipse cx="1783.5" cy="398.0" rx="4.5" ry="7" transform="rotate(40 1783.5 398.0)" fill="#fff" opacity="0.92"/><path d="M1790.0,384.0V398.5M1790.0,408.5V423.0" stroke="#f00" stroke-width="4.5" fill="none"/><path d="M1780.5,398.5H1799.5M1780.5,408.5H1799.5" stroke="#f00" stroke-width="5" fill="none"/>
<circle cx="1973.0" cy="354.0" r="17.5" fill="url(#g_orange)" stroke="#ff6a00" stroke-width="2"/><ellipse cx="1966.5" cy="348.5" rx="4.5" ry="7" transform="rotate(40 1966.5 348.5)" fill="#fff" opacity="0.92"/><path d="M1973.0,334.5V349.0M1973.0,359.0V373.5" stroke="#f00" stroke-width="4.5" fill="none"/><path d="M1963.5,349.0H1982.5M1963.5,359.0H1982.5" stroke="#f00" stroke-width="5" fill="none"/>
<circle cx="1000.0" cy="599.8" r="17.5" fill="url(#g_maroon)" stroke="#6e0c3a" stroke-width="2"/><ellipse cx="993.5" cy="594.3" rx="4.5" ry="7" transform="rotate(40 993.5 594.3)" fill="#fff" opacity="0.92"/><path d="M1000.0,580.3V594.8M1000.0,604.8V619.3" stroke="#f00" stroke-width="4.5" fill="none"/><path d="M990.5,594.8H1009.5M990.5,604.8H1009.5" stroke="#f00" stroke-width="5" fill="none"/>
<circle cx="1182.7" cy="564.2" r="17.5" fill="url(#g_maroon)" stroke="#6e0c3a" stroke-width="2"/><ellipse cx="1176.2" cy="558.7" rx="4.5" ry="7" transform="rotate(40 1176.2 558.7)" fill="#fff" opacity="0.92"/><path d="M1182.7,544.7V559.2M1182.7,569.2V583.7" stroke="#f00" stroke-width="4.5" fill="none"/><path d="M1173.2,559.2H1192.2M1173.2,569.2H1192.2" stroke="#f00" stroke-width="5" fill="none"/>
<polyline points="1000.0,651.8 1973.0,364.0" fill="none" stroke="#ff7a00" stroke-width="4" stroke-linejoin="round" stroke-linecap="round"/>
<polyline points="1000.0,639.6 1973.0,361.0" fill="none" stroke="#4a0608" stroke-width="4" stroke-linejoin="round" stroke-linecap="round"/>
<polyline points="1000.0,626.5 1973.0,311.0" fill="none" stroke="#3a4a9a" stroke-width="3.5" stroke-linejoin="round" stroke-linecap="round"/>
<polyline points="1000.0,649.4 1966.0,261.6" fill="none" stroke="#0a4a1a" stroke-width="4" stroke-linejoin="round" stroke-linecap="round"/>
<polyline points="1000.0,652.7 1963.0,225.4" fill="none" stroke="#0b1040" stroke-width="4.5" stroke-linejoin="round" stroke-linecap="round"/>
<circle cx="1474.0" cy="1259.0" r="17.5" fill="url(#g_navy)" stroke="#0b1a55" stroke-width="2"/><ellipse cx="1467.5" cy="1253.5" rx="4.5" ry="7" transform="rotate(40 1467.5 1253.5)" fill="#fff" opacity="0.92"/><path d="M1474.0,1239.5V1254.0M1474.0,1264.0V1278.5" stroke="#f00" stroke-width="4.5" fill="none"/><path d="M1464.5,1254.0H1483.5M1464.5,1264.0H1483.5" stroke="#f00" stroke-width="5" fill="none"/>
<polyline points="904.0,1559.5 1989.5,995.7" fill="none" stroke="#3a4a9a" stroke-width="3.5" stroke-linejoin="round" stroke-linecap="round"/>
<circle cx="904.3" cy="1521.0" r="17.5" fill="url(#g_blue)" stroke="#4555a0" stroke-width="2"/><ellipse cx="897.8" cy="1515.5" rx="4.5" ry="7" transform="rotate(40 897.8 1515.5)" fill="#fff" opacity="0.92"/><path d="M904.3,1501.5V1516.0M904.3,1526.0V1540.5" stroke="#f00" stroke-width="4.5" fill="none"/><path d="M894.8,1516.0H913.8M894.8,1526.0H913.8" stroke="#f00" stroke-width="5" fill="none"/>
<circle cx="1076.0" cy="1467.7" r="17.5" fill="url(#g_blue)" stroke="#4555a0" stroke-width="2"/><ellipse cx="1069.5" cy="1462.2" rx="4.5" ry="7" transform="rotate(40 1069.5 1462.2)" fill="#fff" opacity="0.92"/><path d="M1076.0,1448.2V1462.7M1076.0,1472.7V1487.2" stroke="#f00" stroke-width="4.5" fill="none"/><path d="M1066.5,1462.7H1085.5M1066.5,1472.7H1085.5" stroke="#f00" stroke-width="5" fill="none"/>
<circle cx="1247.0" cy="1386.0" r="17.5" fill="url(#g_blue)" stroke="#4555a0" stroke-width="2"/><ellipse cx="1240.5" cy="1380.5" rx="4.5" ry="7" transform="rotate(40 1240.5 1380.5)" fill="#fff" opacity="0.92"/><path d="M1247.0,1366.5V1381.0M1247.0,1391.0V1405.5" stroke="#f00" stroke-width="4.5" fill="none"/><path d="M1237.5,1381.0H1256.5M1237.5,1391.0H1256.5" stroke="#f00" stroke-width="5" fill="none"/>
<circle cx="1474.0" cy="1263.0" r="17.5" fill="url(#g_blue)" stroke="#4555a0" stroke-width="2"/><ellipse cx="1467.5" cy="1257.5" rx="4.5" ry="7" transform="rotate(40 1467.5 1257.5)" fill="#fff" opacity="0.92"/><path d="M1474.0,1243.5V1258.0M1474.0,1268.0V1282.5" stroke="#f00" stroke-width="4.5" fill="none"/><path d="M1464.5,1258.0H1483.5M1464.5,1268.0H1483.5" stroke="#f00" stroke-width="5" fill="none"/>
<circle cx="1646.0" cy="1177.0" r="17.5" fill="url(#g_blue)" stroke="#4555a0" stroke-width="2"/><ellipse cx="1639.5" cy="1171.5" rx="4.5" ry="7" transform="rotate(40 1639.5 1171.5)" fill="#fff" opacity="0.92"/><path d="M1646.0,1157.5V1172.0M1646.0,1182.0V1196.5" stroke="#f00" stroke-width="4.5" fill="none"/><path d="M1636.5,1172.0H1655.5M1636.5,1182.0H1655.5" stroke="#f00" stroke-width="5" fill="none"/>
<circle cx="1817.4" cy="1066.5" r="17.5" fill="url(#g_blue)" stroke="#4555a0" stroke-width="2"/><ellipse cx="1810.9" cy="1061.0" rx="4.5" ry="7" transform="rotate(40 1810.9 1061.0)" fill="#fff" opacity="0.92"/><path d="M1817.4,1047.0V1061.5M1817.4,1071.5V1086.0" stroke="#f00" stroke-width="4.5" fill="none"/><path d="M1807.9,1061.5H1826.9M1807.9,1071.5H1826.9" stroke="#f00" stroke-width="5" fill="none"/>
<circle cx="1989.5" cy="1008.5" r="17.5" fill="url(#g_blue)" stroke="#4555a0" stroke-width="2"/><ellipse cx="1983.0" cy="1003.0" rx="4.5" ry="7" transform="rotate(40 1983.0 1003.0)" fill="#fff" opacity="0.92"/><path d="M1989.5,989.0V1003.5M1989.5,1013.5V1028.0" stroke="#f00" stroke-width="4.5" fill="none"/><path d="M1980.0,1003.5H1999.0M1980.0,1013.5H1999.0" stroke="#f00" stroke-width="5" fill="none"/>
<polyline points="1076.0,1491.0 1530.0,1229.5 1989.5,977.0" fill="none" stroke="#4a0a1a" stroke-width="4" stroke-linejoin="round" stroke-linecap="round"/>
<circle cx="1076.0" cy="1487.0" r="17.5" fill="url(#g_plum)" stroke="#4a0a28" stroke-width="2"/><ellipse cx="1069.5" cy="1481.5" rx="4.5" ry="7" transform="rotate(40 1069.5 1481.5)" fill="#fff" opacity="0.92"/><path d="M1076.0,1467.5V1482.0M1076.0,1492.0V1506.5" stroke="#f00" stroke-width="4.5" fill="none"/><path d="M1066.5,1482.0H1085.5M1066.5,1492.0H1085.5" stroke="#f00" stroke-width="5" fill="none"/>
<circle cx="1247.0" cy="1406.0" r="17.5" fill="url(#g_plum)" stroke="#4a0a28" stroke-width="2"/><ellipse cx="1240.5" cy="1400.5" rx="4.5" ry="7" transform="rotate(40 1240.5 1400.5)" fill="#fff" opacity="0.92"/><path d="M1247.0,1386.5V1401.0M1247.0,1411.0V1425.5" stroke="#f00" stroke-width="4.5" fill="none"/><path d="M1237.5,1401.0H1256.5M1237.5,1411.0H1256.5" stroke="#f00" stroke-width="5" fill="none"/>
<circle cx="1646.0" cy="1160.0" r="17.5" fill="url(#g_plum)" stroke="#4a0a28" stroke-width="2"/><ellipse cx="1639.5" cy="1154.5" rx="4.5" ry="7" transform="rotate(40 1639.5 1154.5)" fill="#fff" opacity="0.92"/><path d="M1646.0,1140.5V1155.0M1646.0,1165.0V1179.5" stroke="#f00" stroke-width="4.5" fill="none"/><path d="M1636.5,1155.0H1655.5M1636.5,1165.0H1655.5" stroke="#f00" stroke-width="5" fill="none"/>
<circle cx="1989.5" cy="975.6" r="17.5" fill="url(#g_plum)" stroke="#4a0a28" stroke-width="2"/><ellipse cx="1983.0" cy="970.1" rx="4.5" ry="7" transform="rotate(40 1983.0 970.1)" fill="#fff" opacity="0.92"/>
<circle cx="1076.0" cy="1513.0" r="17.5" fill="url(#g_maroon)" stroke="#6e0c3a" stroke-width="2"/><ellipse cx="1069.5" cy="1507.5" rx="4.5" ry="7" transform="rotate(40 1069.5 1507.5)" fill="#fff" opacity="0.92"/><path d="M1076.0,1493.5V1508.0M1076.0,1518.0V1532.5" stroke="#f00" stroke-width="4.5" fill="none"/><path d="M1066.5,1508.0H1085.5M1066.5,1518.0H1085.5" stroke="#f00" stroke-width="5" fill="none"/>
<circle cx="1247.0" cy="1455.0" r="17.5" fill="url(#g_maroon)" stroke="#6e0c3a" stroke-width="2"/><ellipse cx="1240.5" cy="1449.5" rx="4.5" ry="7" transform="rotate(40 1240.5 1449.5)" fill="#fff" opacity="0.92"/><path d="M1247.0,1435.5V1450.0M1247.0,1460.0V1474.5" stroke="#f00" stroke-width="4.5" fill="none"/><path d="M1237.5,1450.0H1256.5M1237.5,1460.0H1256.5" stroke="#f00" stroke-width="5" fill="none"/>
<circle cx="1474.0" cy="1364.3" r="17.5" fill="url(#g_maroon)" stroke="#6e0c3a" stroke-width="2"/><ellipse cx="1467.5" cy="1358.8" rx="4.5" ry="7" transform="rotate(40 1467.5 1358.8)" fill="#fff" opacity="0.92"/><path d="M1474.0,1344.8V1359.3M1474.0,1369.3V1383.8" stroke="#f00" stroke-width="4.5" fill="none"/><path d="M1464.5,1359.3H1483.5M1464.5,1369.3H1483.5" stroke="#f00" stroke-width="5" fill="none"/>
<circle cx="1817.4" cy="1137.6" r="17.5" fill="url(#g_maroon)" stroke="#6e0c3a" stroke-width="2"/><ellipse cx="1810.9" cy="1132.1" rx="4.5" ry="7" transform="rotate(40 1810.9 1132.1)" fill="#fff" opacity="0.92"/><path d="M1817.4,1118.1V1132.6M1817.4,1142.6V1157.1" stroke="#f00" stroke-width="4.5" fill="none"/><path d="M1807.9,1132.6H1826.9M1807.9,1142.6H1826.9" stroke="#f00" stroke-width="5" fill="none"/>
<circle cx="1989.5" cy="1096.8" r="17.5" fill="url(#g_maroon)" stroke="#6e0c3a" stroke-width="2"/><ellipse cx="1983.0" cy="1091.3" rx="4.5" ry="7" transform="rotate(40 1983.0 1091.3)" fill="#fff" opacity="0.92"/><path d="M1989.5,1077.3V1091.8M1989.5,1101.8V1116.3" stroke="#f00" stroke-width="4.5" fill="none"/><path d="M1980.0,1091.8H1999.0M1980.0,1101.8H1999.0" stroke="#f00" stroke-width="5" fill="none"/>
<circle cx="1076.0" cy="1503.0" r="17.5" fill="url(#g_navy)" stroke="#0b1a55" stroke-width="2"/><ellipse cx="1069.5" cy="1497.5" rx="4.5" ry="7" transform="rotate(40 1069.5 1497.5)" fill="#fff" opacity="0.92"/><path d="M1076.0,1483.5V1498.0M1076.0,1508.0V1522.5" stroke="#f00" stroke-width="4.5" fill="none"/><path d="M1066.5,1498.0H1085.5M1066.5,1508.0H1085.5" stroke="#f00" stroke-width="5" fill="none"/>
<circle cx="1247.0" cy="1464.0" r="17.5" fill="url(#g_navy)" stroke="#0b1a55" stroke-width="2"/><ellipse cx="1240.5" cy="1458.5" rx="4.5" ry="7" transform="rotate(40 1240.5 1458.5)" fill="#fff" opacity="0.92"/><path d="M1247.0,1444.5V1459.0M1247.0,1469.0V1483.5" stroke="#f00" stroke-width="4.5" fill="none"/><path d="M1237.5,1459.0H1256.5M1237.5,1469.0H1256.5" stroke="#f00" stroke-width="5" fill="none"/>
<circle cx="1474.0" cy="1390.0" r="17.5" fill="url(#g_navy)" stroke="#0b1a55" stroke-width="2"/><ellipse cx="1467.5" cy="1384.5" rx="4.5" ry="7" transform="rotate(40 1467.5 1384.5)" fill="#fff" opacity="0.92"/><path d="M1474.0,1370.5V1385.0M1474.0,1395.0V1409.5" stroke="#f00" stroke-width="4.5" fill="none"/><path d="M1464.5,1385.0H1483.5M1464.5,1395.0H1483.5" stroke="#f00" stroke-width="5" fill="none"/>
<circle cx="1817.4" cy="1164.0" r="17.5" fill="url(#g_navy)" stroke="#0b1a55" stroke-width="2"/><ellipse cx="1810.9" cy="1158.5" rx="4.5" ry="7" transform="rotate(40 1810.9 1158.5)" fill="#fff" opacity="0.92"/><path d="M1817.4,1144.5V1159.0M1817.4,1169.0V1183.5" stroke="#f00" stroke-width="4.5" fill="none"/><path d="M1807.9,1159.0H1826.9M1807.9,1169.0H1826.9" stroke="#f00" stroke-width="5" fill="none"/>
<circle cx="1989.5" cy="1070.4" r="17.5" fill="url(#g_navy)" stroke="#0b1a55" stroke-width="2"/><ellipse cx="1983.0" cy="1064.9" rx="4.5" ry="7" transform="rotate(40 1983.0 1064.9)" fill="#fff" opacity="0.92"/><path d="M1989.5,1050.9V1065.4M1989.5,1075.4V1089.9" stroke="#f00" stroke-width="4.5" fill="none"/><path d="M1980.0,1065.4H1999.0M1980.0,1075.4H1999.0" stroke="#f00" stroke-width="5" fill="none"/>
<polyline points="1075.7,1537.4 1330.0,1408.4 1530.0,1304.0 1987.0,1075.6" fill="none" stroke="#6a0f32" stroke-width="3.5" stroke-linejoin="round" stroke-linecap="round"/>
<polyline points="1076.5,1511.0 1330.0,1404.0 1530.0,1314.0 1987.0,1104.0" fill="none" stroke="#0b1040" stroke-width="4" stroke-linejoin="round" stroke-linecap="round"/>
<circle cx="334.4" cy="1480.0" r="17.5" fill="url(#g_pink)" stroke="#ff5fc0" stroke-width="2"/><ellipse cx="327.9" cy="1474.5" rx="4.5" ry="7" transform="rotate(40 327.9 1474.5)" fill="#fff" opacity="0.92"/><path d="M334.4,1460.5V1475.0M334.4,1485.0V1499.5" stroke="#f00" stroke-width="4.5" fill="none"/><path d="M324.9,1475.0H343.9M324.9,1485.0H343.9" stroke="#f00" stroke-width="5" fill="none"/>
<circle cx="505.7" cy="1426.9" r="17.5" fill="url(#g_pink)" stroke="#ff5fc0" stroke-width="2"/><ellipse cx="499.2" cy="1421.4" rx="4.5" ry="7" transform="rotate(40 499.2 1421.4)" fill="#fff" opacity="0.92"/><path d="M505.7,1407.4V1421.9M505.7,1431.9V1446.4" stroke="#f00" stroke-width="4.5" fill="none"/><path d="M496.2,1421.9H515.2M496.2,1431.9H515.2" stroke="#f00" stroke-width="5" fill="none"/>
<circle cx="677.5" cy="1410.6" r="17.5" fill="url(#g_pink)" stroke="#ff5fc0" stroke-width="2"/><ellipse cx="671.0" cy="1405.1" rx="4.5" ry="7" transform="rotate(40 671.0 1405.1)" fill="#fff" opacity="0.92"/><path d="M677.5,1391.1V1405.6M677.5,1415.6V1430.1" stroke="#f00" stroke-width="4.5" fill="none"/><path d="M668.0,1405.6H687.0M668.0,1415.6H687.0" stroke="#f00" stroke-width="5" fill="none"/>
<circle cx="904.3" cy="1362.8" r="17.5" fill="url(#g_pink)" stroke="#ff5fc0" stroke-width="2"/><ellipse cx="897.8" cy="1357.3" rx="4.5" ry="7" transform="rotate(40 897.8 1357.3)" fill="#fff" opacity="0.92"/><path d="M904.3,1343.3V1357.8M904.3,1367.8V1382.3" stroke="#f00" stroke-width="4.5" fill="none"/><path d="M894.8,1357.8H913.8M894.8,1367.8H913.8" stroke="#f00" stroke-width="5" fill="none"/>
<circle cx="1076.0" cy="1312.6" r="17.5" fill="url(#g_pink)" stroke="#ff5fc0" stroke-width="2"/><ellipse cx="1069.5" cy="1307.1" rx="4.5" ry="7" transform="rotate(40 1069.5 1307.1)" fill="#fff" opacity="0.92"/><path d="M1076.0,1293.1V1307.6M1076.0,1317.6V1332.1" stroke="#f00" stroke-width="4.5" fill="none"/><path d="M1066.5,1307.6H1085.5M1066.5,1317.6H1085.5" stroke="#f00" stroke-width="5" fill="none"/>
<circle cx="1247.0" cy="1284.2" r="17.5" fill="url(#g_pink)" stroke="#ff5fc0" stroke-width="2"/><ellipse cx="1240.5" cy="1278.7" rx="4.5" ry="7" transform="rotate(40 1240.5 1278.7)" fill="#fff" opacity="0.92"/><path d="M1247.0,1264.7V1279.2M1247.0,1289.2V1303.7" stroke="#f00" stroke-width="4.5" fill="none"/><path d="M1237.5,1279.2H1256.5M1237.5,1289.2H1256.5" stroke="#f00" stroke-width="5" fill="none"/>
<circle cx="1474.0" cy="1216.0" r="17.5" fill="url(#g_pink)" stroke="#ff5fc0" stroke-width="2"/><ellipse cx="1467.5" cy="1210.5" rx="4.5" ry="7" transform="rotate(40 1467.5 1210.5)" fill="#fff" opacity="0.92"/><path d="M1474.0,1196.5V1211.0M1474.0,1221.0V1235.5" stroke="#f00" stroke-width="4.5" fill="none"/><path d="M1464.5,1211.0H1483.5M1464.5,1221.0H1483.5" stroke="#f00" stroke-width="5" fill="none"/>
<circle cx="1817.4" cy="1119.0" r="17.5" fill="url(#g_pink)" stroke="#ff5fc0" stroke-width="2"/><ellipse cx="1810.9" cy="1113.5" rx="4.5" ry="7" transform="rotate(40 1810.9 1113.5)" fill="#fff" opacity="0.92"/><path d="M1817.4,1099.5V1114.0M1817.4,1124.0V1138.5" stroke="#f00" stroke-width="4.5" fill="none"/><path d="M1807.9,1114.0H1826.9M1807.9,1124.0H1826.9" stroke="#f00" stroke-width="5" fill="none"/>
<circle cx="334.4" cy="1502.2" r="17.5" fill="url(#g_orange)" stroke="#ff6a00" stroke-width="2"/><ellipse cx="327.9" cy="1496.7" rx="4.5" ry="7" transform="rotate(40 327.9 1496.7)" fill="#fff" opacity="0.92"/><path d="M334.4,1482.7V1497.2M334.4,1507.2V1521.7" stroke="#f00" stroke-width="4.5" fill="none"/><path d="M324.9,1497.2H343.9M324.9,1507.2H343.9" stroke="#f00" stroke-width="5" fill="none"/>
<circle cx="505.7" cy="1492.9" r="17.5" fill="url(#g_orange)" stroke="#ff6a00" stroke-width="2"/><ellipse cx="499.2" cy="1487.4" rx="4.5" ry="7" transform="rotate(40 499.2 1487.4)" fill="#fff" opacity="0.92"/><path d="M505.7,1473.4V1487.9M505.7,1497.9V1512.4" stroke="#f00" stroke-width="4.5" fill="none"/><path d="M496.2,1487.9H515.2M496.2,1497.9H515.2" stroke="#f00" stroke-width="5" fill="none"/>
<circle cx="677.5" cy="1455.5" r="17.5" fill="url(#g_orange)" stroke="#ff6a00" stroke-width="2"/><ellipse cx="671.0" cy="1450.0" rx="4.5" ry="7" transform="rotate(40 671.0 1450.0)" fill="#fff" opacity="0.92"/><path d="M677.5,1436.0V1450.5M677.5,1460.5V1475.0" stroke="#f00" stroke-width="4.5" fill="none"/><path d="M668.0,1450.5H687.0M668.0,1460.5H687.0" stroke="#f00" stroke-width="5" fill="none"/>
<circle cx="904.3" cy="1416.7" r="17.5" fill="url(#g_orange)" stroke="#ff6a00" stroke-width="2"/><ellipse cx="897.8" cy="1411.2" rx="4.5" ry="7" transform="rotate(40 897.8 1411.2)" fill="#fff" opacity="0.92"/><path d="M904.3,1397.2V1411.7M904.3,1421.7V1436.2" stroke="#f00" stroke-width="4.5" fill="none"/><path d="M894.8,1411.7H913.8M894.8,1421.7H913.8" stroke="#f00" stroke-width="5" fill="none"/>
<circle cx="1076.0" cy="1377.0" r="17.5" fill="url(#g_orange)" stroke="#ff6a00" stroke-width="2"/><ellipse cx="1069.5" cy="1371.5" rx="4.5" ry="7" transform="rotate(40 1069.5 1371.5)" fill="#fff" opacity="0.92"/><path d="M1076.0,1357.5V1372.0M1076.0,1382.0V1396.5" stroke="#f00" stroke-width="4.5" fill="none"/><path d="M1066.5,1372.0H1085.5M1066.5,1382.0H1085.5" stroke="#f00" stroke-width="5" fill="none"/>
<circle cx="1247.0" cy="1329.8" r="17.5" fill="url(#g_orange)" stroke="#ff6a00" stroke-width="2"/><ellipse cx="1240.5" cy="1324.3" rx="4.5" ry="7" transform="rotate(40 1240.5 1324.3)" fill="#fff" opacity="0.92"/><path d="M1247.0,1310.3V1324.8M1247.0,1334.8V1349.3" stroke="#f00" stroke-width="4.5" fill="none"/><path d="M1237.5,1324.8H1256.5M1237.5,1334.8H1256.5" stroke="#f00" stroke-width="5" fill="none"/>
<circle cx="1474.0" cy="1237.7" r="17.5" fill="url(#g_orange)" stroke="#ff6a00" stroke-width="2"/><ellipse cx="1467.5" cy="1232.2" rx="4.5" ry="7" transform="rotate(40 1467.5 1232.2)" fill="#fff" opacity="0.92"/><path d="M1474.0,1218.2V1232.7M1474.0,1242.7V1257.2" stroke="#f00" stroke-width="4.5" fill="none"/><path d="M1464.5,1232.7H1483.5M1464.5,1242.7H1483.5" stroke="#f00" stroke-width="5" fill="none"/>
<circle cx="1646.0" cy="1202.2" r="17.5" fill="url(#g_orange)" stroke="#ff6a00" stroke-width="2"/><ellipse cx="1639.5" cy="1196.7" rx="4.5" ry="7" transform="rotate(40 1639.5 1196.7)" fill="#fff" opacity="0.92"/><path d="M1646.0,1182.7V1197.2M1646.0,1207.2V1221.7" stroke="#f00" stroke-width="4.5" fill="none"/><path d="M1636.5,1197.2H1655.5M1636.5,1207.2H1655.5" stroke="#f00" stroke-width="5" fill="none"/>
<polyline points="334.4,1480.0 1989.5,1103.4" fill="none" stroke="#ff5cb8" stroke-width="3.5" stroke-linejoin="round" stroke-linecap="round"/>
<polyline points="334.0,1529.2 1646.0,1236.4" fill="none" stroke="#ff7000" stroke-width="4" stroke-linejoin="round" stroke-linecap="round"/>
<circle cx="677.5" cy="1503.8" r="17.5" fill="url(#g_green)" stroke="#0a4a20" stroke-width="2"/><ellipse cx="671.0" cy="1498.3" rx="4.5" ry="7" transform="rotate(40 671.0 1498.3)" fill="#fff" opacity="0.92"/><path d="M677.5,1484.3V1498.8M677.5,1508.8V1523.3" stroke="#f00" stroke-width="4.5" fill="none"/><path d="M668.0,1498.8H687.0M668.0,1508.8H687.0" stroke="#f00" stroke-width="5" fill="none"/>
<circle cx="904.3" cy="1473.1" r="17.5" fill="url(#g_green)" stroke="#0a4a20" stroke-width="2"/><ellipse cx="897.8" cy="1467.6" rx="4.5" ry="7" transform="rotate(40 897.8 1467.6)" fill="#fff" opacity="0.92"/><path d="M904.3,1453.6V1468.1M904.3,1478.1V1492.6" stroke="#f00" stroke-width="4.5" fill="none"/><path d="M894.8,1468.1H913.8M894.8,1478.1H913.8" stroke="#f00" stroke-width="5" fill="none"/>
<circle cx="1076.0" cy="1438.5" r="17.5" fill="url(#g_green)" stroke="#0a4a20" stroke-width="2"/><ellipse cx="1069.5" cy="1433.0" rx="4.5" ry="7" transform="rotate(40 1069.5 1433.0)" fill="#fff" opacity="0.92"/><path d="M1076.0,1419.0V1433.5M1076.0,1443.5V1458.0" stroke="#f00" stroke-width="4.5" fill="none"/><path d="M1066.5,1433.5H1085.5M1066.5,1443.5H1085.5" stroke="#f00" stroke-width="5" fill="none"/>
<circle cx="1247.0" cy="1379.0" r="17.5" fill="url(#g_green)" stroke="#0a4a20" stroke-width="2"/><ellipse cx="1240.5" cy="1373.5" rx="4.5" ry="7" transform="rotate(40 1240.5 1373.5)" fill="#fff" opacity="0.92"/><path d="M1247.0,1359.5V1374.0M1247.0,1384.0V1398.5" stroke="#f00" stroke-width="4.5" fill="none"/><path d="M1237.5,1374.0H1256.5M1237.5,1384.0H1256.5" stroke="#f00" stroke-width="5" fill="none"/>
<circle cx="1474.0" cy="1329.8" r="17.5" fill="url(#g_green)" stroke="#0a4a20" stroke-width="2"/><ellipse cx="1467.5" cy="1324.3" rx="4.5" ry="7" transform="rotate(40 1467.5 1324.3)" fill="#fff" opacity="0.92"/><path d="M1474.0,1310.3V1324.8M1474.0,1334.8V1349.3" stroke="#f00" stroke-width="4.5" fill="none"/><path d="M1464.5,1324.8H1483.5M1464.5,1334.8H1483.5" stroke="#f00" stroke-width="5" fill="none"/>
<circle cx="1646.0" cy="1283.8" r="17.5" fill="url(#g_green)" stroke="#0a4a20" stroke-width="2"/><ellipse cx="1639.5" cy="1278.3" rx="4.5" ry="7" transform="rotate(40 1639.5 1278.3)" fill="#fff" opacity="0.92"/><path d="M1646.0,1264.3V1278.8M1646.0,1288.8V1303.3" stroke="#f00" stroke-width="4.5" fill="none"/><path d="M1636.5,1278.8H1655.5M1636.5,1288.8H1655.5" stroke="#f00" stroke-width="5" fill="none"/>
<circle cx="1817.4" cy="1223.2" r="17.5" fill="url(#g_green)" stroke="#0a4a20" stroke-width="2"/><ellipse cx="1810.9" cy="1217.7" rx="4.5" ry="7" transform="rotate(40 1810.9 1217.7)" fill="#fff" opacity="0.92"/><path d="M1817.4,1203.7V1218.2M1817.4,1228.2V1242.7" stroke="#f00" stroke-width="4.5" fill="none"/><path d="M1807.9,1218.2H1826.9M1807.9,1228.2H1826.9" stroke="#f00" stroke-width="5" fill="none"/>
<polyline points="677.5,1514.8 1817.4,1240.4" fill="none" stroke="#0a4a1a" stroke-width="4" stroke-linejoin="round" stroke-linecap="round"/>
</svg></body></html>
